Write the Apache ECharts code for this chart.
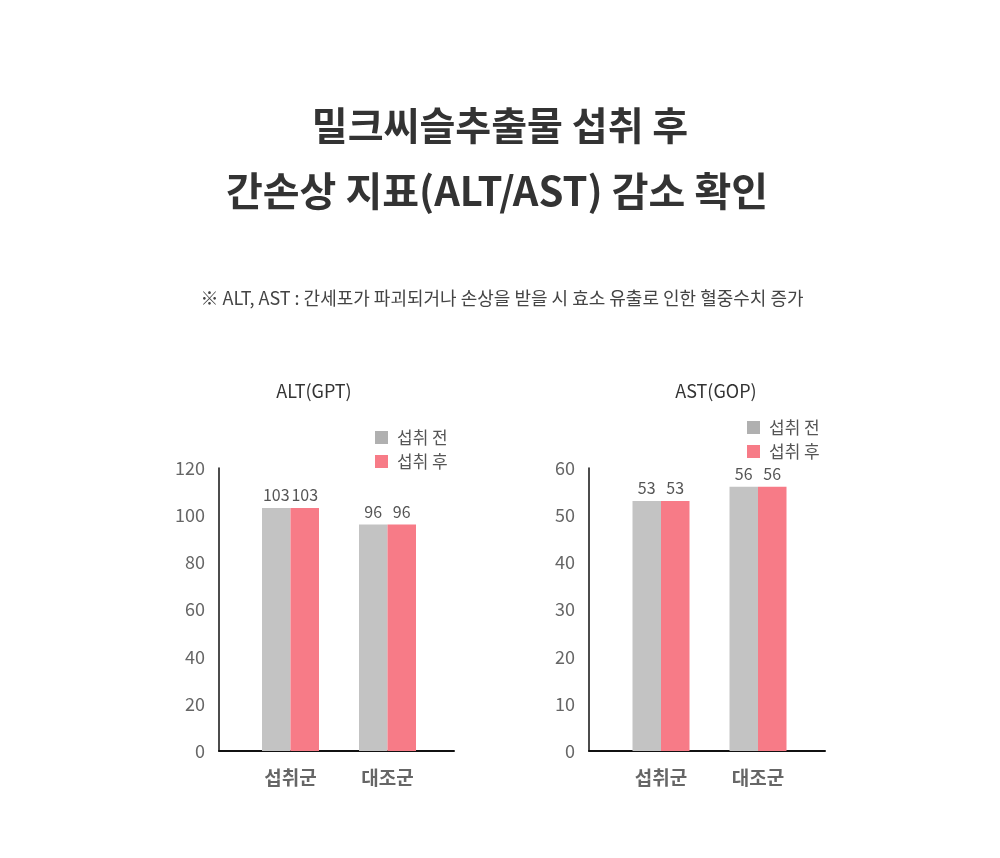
<!DOCTYPE html>
<html>
<head>
<meta charset="utf-8">
<script src="https://cdn.jsdelivr.net/npm/echarts@6/dist/echarts.min.js"></script>
<style>
html,body{margin:0;padding:0;background:#fff;}
#chart{width:1000px;height:858px;}
</style>
</head>
<body>
<div id="chart"></div>
<script>
var categories = ['섭취군', '대조군'];
var seriesNames = ['섭취 전', '섭취 후'];
var altBefore = [103, 96];
var altAfter = [103, 96];
var astBefore = [53, 56];
var astAfter = [53, 56];
var altTicks = { min: 0, max: 120, interval: 20 };
var astTicks = { min: 0, max: 60, interval: 10 };
var titleLines = ['밀크씨슬추출물 섭취 후', '간손상 지표(ALT/AST) 감소 확인'];
var noteText = '※ ALT, AST : 간세포가 파괴되거나 손상을 받을 시 효소 유출로 인한 혈중수치 증가';
var chartTitles = ['ALT(GPT)', 'AST(GOP)'];

var FONT = '"Noto Sans CJK KR", "Noto Sans", sans-serif';
var GRAY = '#c3c3c3';
var PINK = '#f77b87';

var chart = echarts.init(document.getElementById('chart'), null, { renderer: 'canvas' });

function frameY(idx, t) {
  return {
    gridIndex: idx, type: 'value', min: t.min, max: t.max, interval: t.interval,
    axisLine: { show: true, lineStyle: { color: '#111', width: 1.5 } },
    axisTick: { show: false }, splitLine: { show: false },
    axisLabel: { color: '#666', fontSize: 18, fontFamily: FONT, margin: 14 }
  };
}
function barY(idx, t) {
  return {
    gridIndex: idx, type: 'value', min: t.min, max: t.max, interval: t.interval,
    show: false, splitLine: { show: false }
  };
}
function frameX(idx) {
  return {
    gridIndex: idx, type: 'value', min: 0, max: 1,
    axisLine: { show: true, onZero: false, lineStyle: { color: '#111', width: 2 } },
    axisTick: { show: false }, splitLine: { show: false }, axisLabel: { show: false }
  };
}
function barX(idx) {
  return {
    gridIndex: idx, type: 'category', data: categories,
    axisLine: { show: false }, axisTick: { show: false },
    axisLabel: { color: '#666', fontSize: 19, fontWeight: 'bold', fontFamily: FONT, margin: 17 }
  };
}
function barSeries(name, data, color, gi) {
  return {
    name: name, type: 'bar', xAxisIndex: gi, yAxisIndex: gi, data: data,
    barWidth: 28.5, barGap: '0%',
    itemStyle: { color: color },
    label: { show: true, position: 'top', distance: 5, color: '#555', fontSize: 16, fontFamily: FONT },
    emphasis: { disabled: true }
  };
}
function legendAt(left, top) {
  return {
    left: left, top: top, orient: 'vertical', itemWidth: 13, itemHeight: 13, itemGap: 7,
    icon: 'rect',
    textStyle: { color: '#555', fontSize: 17, fontFamily: FONT, lineHeight: 16, padding: [0, 0, 0, 4] },
    data: [
      { name: seriesNames[0], itemStyle: { color: '#b0b0b0' } },
      { name: seriesNames[1], itemStyle: { color: PINK } }
    ],
    selectedMode: false
  };
}

var option = {
  backgroundColor: '#fff',
  animation: false,
  textStyle: { fontFamily: FONT },
  grid: [
    { left: 219, top: 468, width: 235, height: 283 },
    { left: 242, top: 468, width: 194, height: 283 },
    { left: 589, top: 468, width: 236, height: 283 },
    { left: 612.5, top: 468, width: 194, height: 283 }
  ],
  xAxis: [frameX(0), barX(1), frameX(2), barX(3)],
  yAxis: [frameY(0, altTicks), barY(1, altTicks), frameY(2, astTicks), barY(3, astTicks)],
  legend: [legendAt(370, 424), legendAt(742, 414)],
  series: [
    barSeries(seriesNames[0], altBefore, GRAY, 1),
    barSeries(seriesNames[1], altAfter, PINK, 1),
    barSeries(seriesNames[0], astBefore, GRAY, 3),
    barSeries(seriesNames[1], astAfter, PINK, 3)
  ],
  graphic: [
    { type: 'text', x: 500, y: 125, style: { text: titleLines[0], fontSize: 39, fontWeight: 'bold', fontFamily: FONT, fill: '#333', textAlign: 'center', textVerticalAlign: 'middle' } },
    { type: 'text', x: 497, y: 191, style: { text: titleLines[1], fontSize: 40, fontWeight: 'bold', fontFamily: FONT, fill: '#333', textAlign: 'center', textVerticalAlign: 'middle' } },
    { type: 'text', x: 502, y: 298, style: { text: noteText, fontSize: 18, fontFamily: FONT, fill: '#444', textAlign: 'center', textVerticalAlign: 'middle' } },
    { type: 'text', x: 314, y: 391, style: { text: chartTitles[0], fontSize: 18, fontFamily: FONT, fill: '#333', textAlign: 'center', textVerticalAlign: 'middle' } },
    { type: 'text', x: 716, y: 391, style: { text: chartTitles[1], fontSize: 18, fontFamily: FONT, fill: '#333', textAlign: 'center', textVerticalAlign: 'middle' } }
  ]
};
chart.setOption(option);
</script>
</body>
</html>
